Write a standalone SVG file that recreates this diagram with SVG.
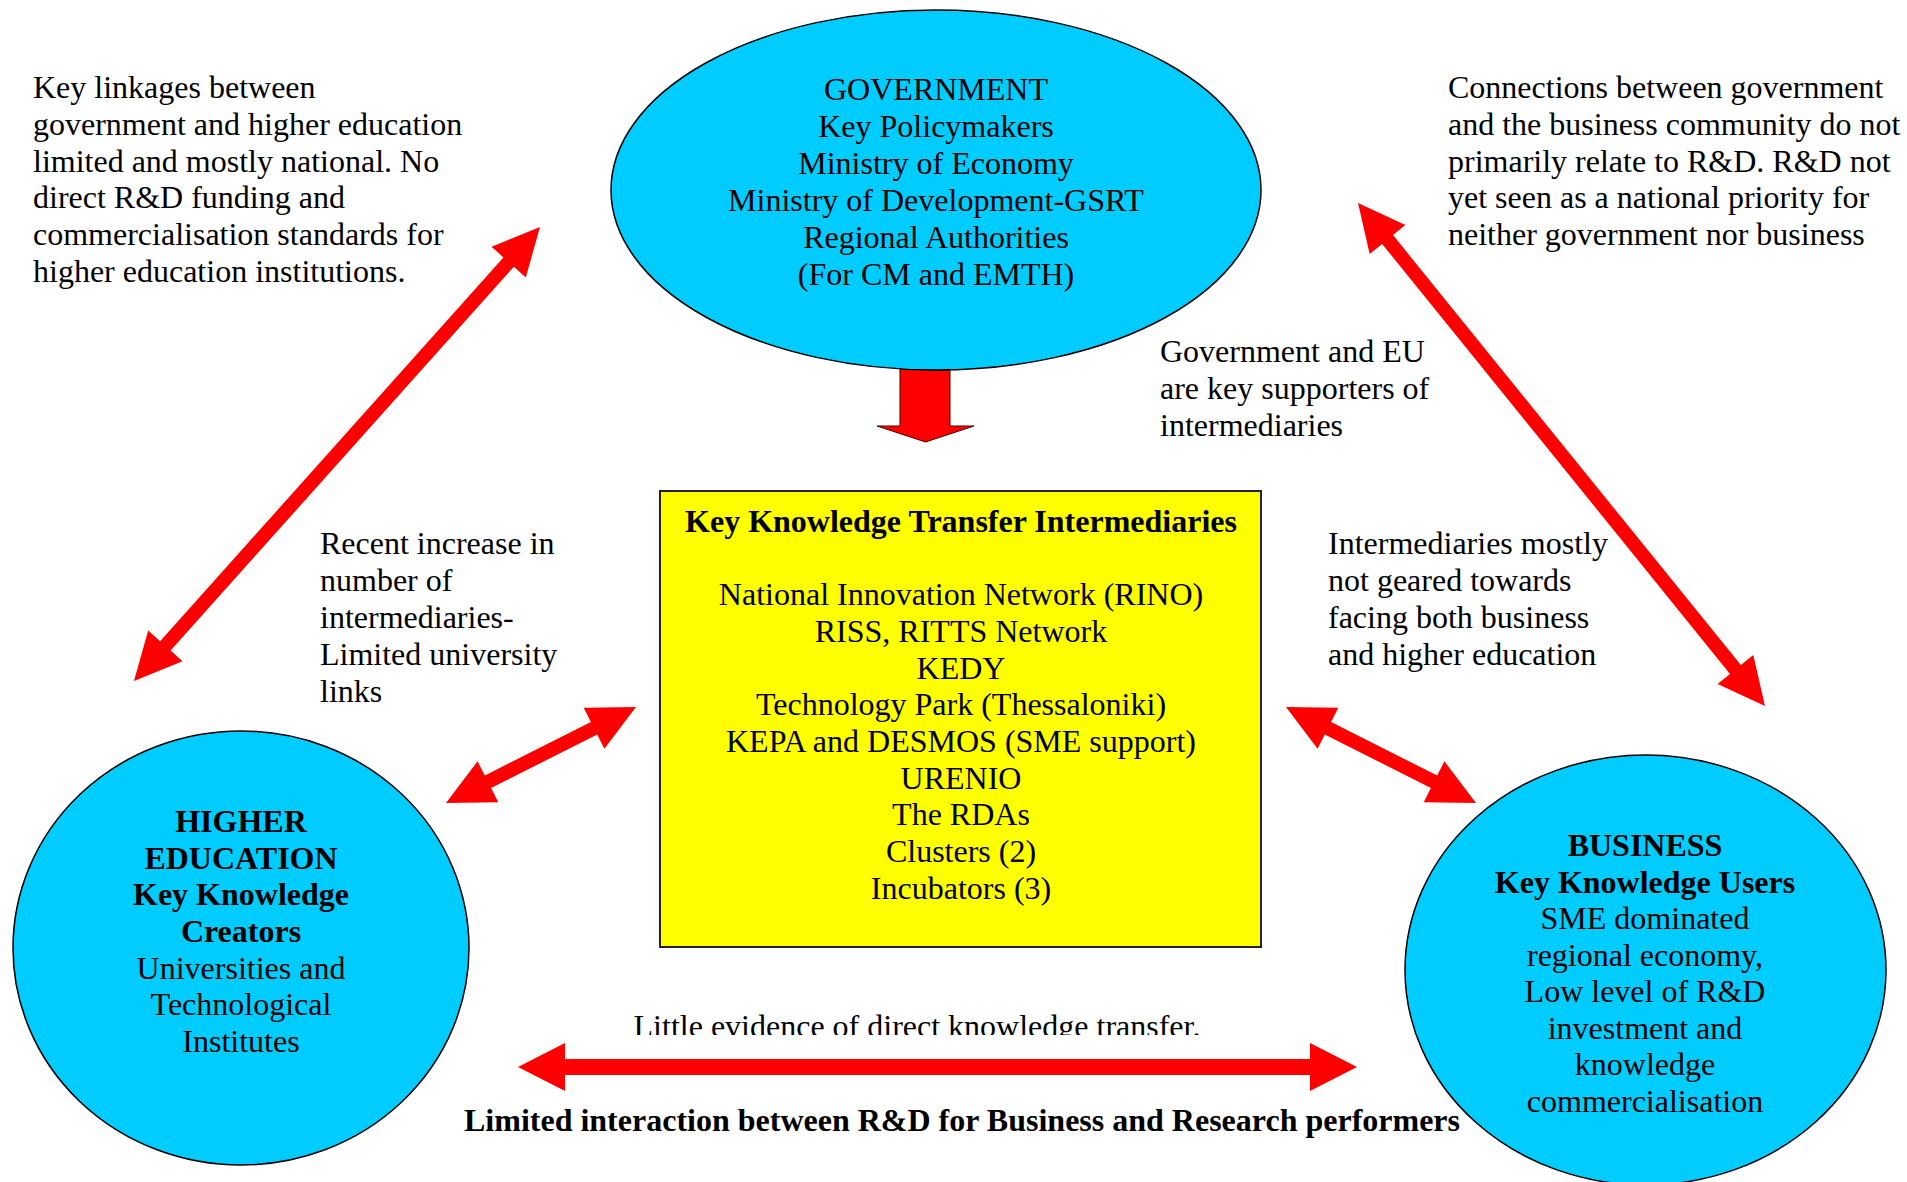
<svg xmlns="http://www.w3.org/2000/svg" width="1907" height="1182" viewBox="0 0 1907 1182">
<style>
text{font-family:"Liberation Serif","Times New Roman",serif;font-size:32px;fill:#000}
.c{text-anchor:middle}
.b{font-weight:bold}
.node{fill:#00CCFF;stroke:#000;stroke-width:1.5}
.box{fill:#FFFF00;stroke:#222;stroke-width:2}
.arr{fill:#FF0000;stroke:none}
.down{fill:#FF0000;stroke:#400;stroke-width:1}
</style>
<defs>
<clipPath id="clipLittle"><rect x="600" y="990" width="640" height="45"/></clipPath>
</defs>
<rect width="1907" height="1182" fill="#fff"/>
<g id="connectors">
<polygon class="down" points="900,368 950,368 950,426 974,426 925.5,442 877,426 900,426"/>
<polygon class="arr" points="540,227 525.8,277.4 513.9,266.7 170.6,650.6 182.5,661.3 134,681 148.2,630.6 160.1,641.3 503.4,257.4 491.5,246.7"/>
<polygon class="arr" points="1358,203 1405.4,225.1 1393,235.1 1740.9,665.1 1753.3,655 1765,706 1717.6,684 1730,673.9 1382.1,243.9 1369.7,254"/>
<polygon class="arr" points="636,707 604.4,748.7 597.2,734.4 491.1,788.1 498.3,802.3 446,803 477.6,761.3 484.8,775.6 590.9,721.9 583.7,707.7"/>
<polygon class="arr" points="1286,707 1317.6,748.7 1324.8,734.4 1430.9,788.1 1423.7,802.3 1476,803 1444.4,761.3 1437.2,775.6 1331.1,721.9 1338.3,707.7"/>
<polygon class="arr" points="518,1067 565,1043 565,1059 1310,1059 1310,1043 1357,1067 1310,1091 1310,1075 565,1075 565,1091"/>
</g>
<g id="government">
<ellipse class="node" cx="936" cy="190" rx="325" ry="180"/>
<text class="c" x="936" y="100">GOVERNMENT</text>
<text class="c" x="936" y="137">Key Policymakers</text>
<text class="c" x="936" y="174">Ministry of Economy</text>
<text class="c" x="936" y="211">Ministry of Development-GSRT</text>
<text class="c" x="936" y="248">Regional Authorities</text>
<text class="c" x="936" y="285">(For CM and EMTH)</text>
</g>
<g id="intermediaries">
<rect class="box" x="660" y="491" width="601" height="456"/>
<text class="c b" x="961" y="532">Key Knowledge Transfer Intermediaries</text>
<text class="c" x="961" y="605">National Innovation Network (RINO)</text>
<text class="c" x="961" y="642">RISS, RITTS Network</text>
<text class="c" x="961" y="679">KEDY</text>
<text class="c" x="961" y="715">Technology Park (Thessaloniki)</text>
<text class="c" x="961" y="752">KEPA and DESMOS (SME support)</text>
<text class="c" x="961" y="789">URENIO</text>
<text class="c" x="961" y="825">The RDAs</text>
<text class="c" x="961" y="862">Clusters (2)</text>
<text class="c" x="961" y="899">Incubators (3)</text>
</g>
<g id="higher-education">
<ellipse class="node" cx="241" cy="948" rx="228" ry="217"/>
<text class="c b" x="241" y="832">HIGHER</text>
<text class="c b" x="241" y="869">EDUCATION</text>
<text class="c b" x="241" y="905">Key Knowledge</text>
<text class="c b" x="241" y="942">Creators</text>
<text class="c" x="241" y="979">Universities and</text>
<text class="c" x="241" y="1015">Technological</text>
<text class="c" x="241" y="1052">Institutes</text>
</g>
<g id="business">
<ellipse class="node" cx="1645.5" cy="970" rx="240.5" ry="215"/>
<text class="c b" x="1645" y="856">BUSINESS</text>
<text class="c b" x="1645" y="893">Key Knowledge Users</text>
<text class="c" x="1645" y="929">SME dominated</text>
<text class="c" x="1645" y="966">regional economy,</text>
<text class="c" x="1645" y="1002">Low level of R&amp;D</text>
<text class="c" x="1645" y="1039">investment and</text>
<text class="c" x="1645" y="1075">knowledge</text>
<text class="c" x="1645" y="1112">commercialisation</text>
</g>
<g id="notes">
<text x="33" y="98">Key linkages between</text>
<text x="33" y="135">government and higher education</text>
<text x="33" y="172">limited and mostly national. No</text>
<text x="33" y="208">direct R&amp;D funding and</text>
<text x="33" y="245">commercialisation standards for</text>
<text x="33" y="282">higher education institutions.</text>
<text x="1448" y="98">Connections between government</text>
<text x="1448" y="135">and the business community do not</text>
<text x="1448" y="172">primarily relate to R&amp;D. R&amp;D not</text>
<text x="1448" y="208">yet seen as a national priority for</text>
<text x="1448" y="245">neither government nor business</text>
<text x="1160" y="362">Government and EU</text>
<text x="1160" y="399">are key supporters of</text>
<text x="1160" y="436">intermediaries</text>
<text x="320" y="554">Recent increase in</text>
<text x="320" y="591">number of</text>
<text x="320" y="628">intermediaries-</text>
<text x="320" y="665">Limited university</text>
<text x="320" y="702">links</text>
<text x="1328" y="554">Intermediaries mostly</text>
<text x="1328" y="591">not geared towards</text>
<text x="1328" y="628">facing both business</text>
<text x="1328" y="665">and higher education</text>
<text class="c" x="917" y="1037" clip-path="url(#clipLittle)">Little evidence of direct knowledge transfer.</text>
<text class="c b" x="962" y="1131">Limited interaction between R&amp;D for Business and Research performers</text>
</g>
</svg>
